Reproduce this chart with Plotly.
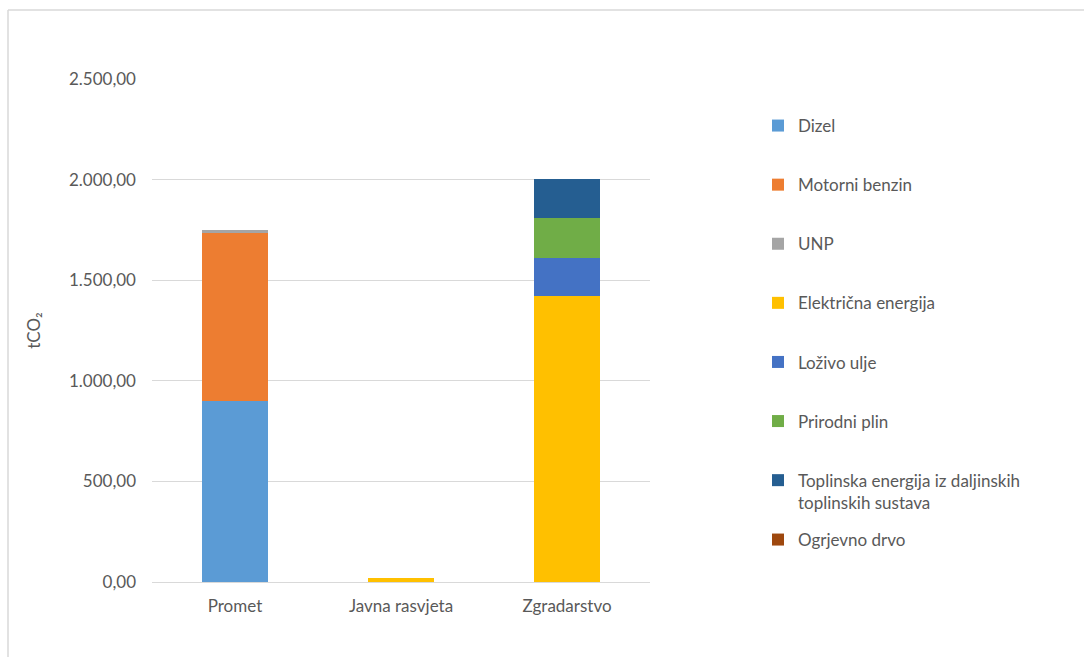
import plotly.graph_objects as go

# Emissions by sector and energy source (tCO2)
categories = ["Promet", "Javna rasvjeta", "Zgradarstvo"]

fuels = [
    "Dizel",
    "Motorni benzin",
    "UNP",
    "Električna energija",
    "Loživo ulje",
    "Prirodni plin",
    "Toplinska energija iz daljinskih<br>toplinskih sustava",
    "Ogrjevno drvo",
]

dizel = [900, 0, 0]
motorni_benzin = [835, 0, 0]
unp = [17, 0, 0]
elektricna_energija = [0, 22, 1421]
lozivo_ulje = [0, 0, 190]
prirodni_plin = [0, 0, 196]
toplinska_energija = [0, 0, 194]
ogrjevno_drvo = [0, 0, 0]

series = [dizel, motorni_benzin, unp, elektricna_energija,
          lozivo_ulje, prirodni_plin, toplinska_energija, ogrjevno_drvo]

colors = ["#5B9BD5", "#ED7D31", "#A5A5A5", "#FFC000",
          "#4472C4", "#70AD47", "#255E91", "#9E480E"]

y_ticks = [0, 500, 1000, 1500, 2000, 2500]

FONT = "Lato"
TEXT = "#595959"
FS = 17

fig = go.Figure()
for i, (name, vals, col) in enumerate(zip(fuels, series, colors)):
    fig.add_trace(go.Bar(
        x=categories, y=vals, name=name, legendgroup=f"g{i}",
        legend="legend2" if i == len(fuels) - 1 else "legend",
        marker=dict(color=col, line=dict(width=0)),
        width=0.4,
    ))

# Plot area in pixels: x 152..650, y 79..582
W, H = 1084, 657
L, R, T, B = 152, 650, 79, 582

def px(x):
    return (x - L) / (R - L)

def py(y):
    return (B - y) / (B - T)

legend_style = dict(
    xanchor="left", yanchor="top", valign="top",
    traceorder="grouped", tracegroupgap=34,
    font=dict(family=FONT, size=FS, color=TEXT),
    itemclick=False, itemdoubleclick=False, bgcolor="rgba(0,0,0,0)",
)

fig.update_layout(
    width=W, height=H,
    margin=dict(l=L, r=W - R, t=T, b=H - B, autoexpand=False),
    barmode="stack",
    separators=",.",
    paper_bgcolor="white", plot_bgcolor="white",
    font=dict(family=FONT, size=FS, color=TEXT),
    showlegend=True,
    legend=dict(x=px(758), y=py(108), **legend_style),
    legend2=dict(x=px(758), y=py(522), **legend_style),
    xaxis=dict(
        showgrid=False, showline=True, linecolor="#D9D9D9", linewidth=1,
        ticks="", ticklabelstandoff=9,
        tickfont=dict(family=FONT, size=FS, color=TEXT),
    ),
    yaxis=dict(
        range=[0, 2500], tickvals=y_ticks, tickformat=",.2f",
        showgrid=True, gridcolor="#D9D9D9", gridwidth=1,
        zeroline=False, showline=False, ticks="", ticklabelstandoff=15,
        tickfont=dict(family=FONT, size=FS, color=TEXT),
        title=dict(text="tCO₂", standoff=24,
                   font=dict(family=FONT, size=FS, color=TEXT)),
    ),
    shapes=[
        dict(type="line", xref="paper", yref="paper",
             x0=px(8), x1=px(W + 2), y0=py(10), y1=py(10),
             line=dict(color="#D9D9D9", width=1.5)),
        dict(type="line", xref="paper", yref="paper",
             x0=px(8), x1=px(8), y0=py(10), y1=py(H + 2),
             line=dict(color="#D9D9D9", width=1.5)),
    ],
)

fig.write_html("out.html")
